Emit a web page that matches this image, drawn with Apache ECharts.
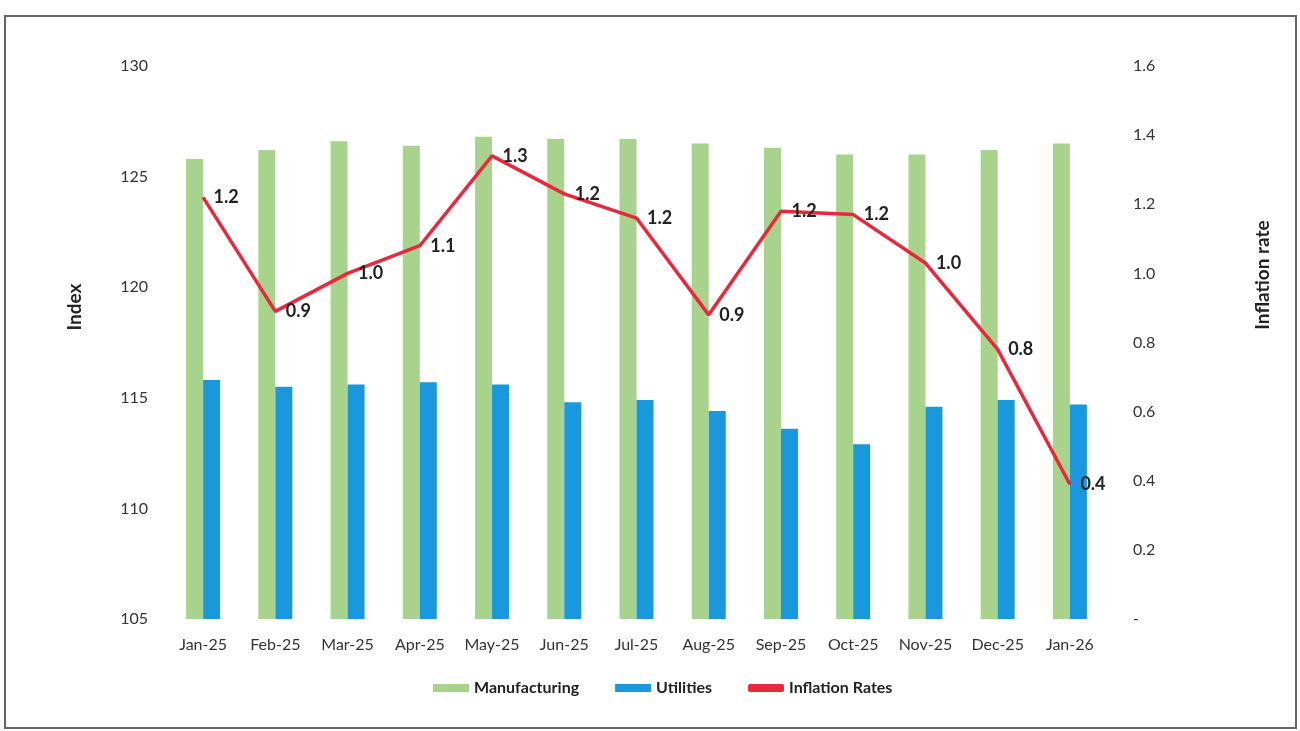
<!DOCTYPE html>
<html>
<head>
<meta charset="utf-8">
<script src="https://cdn.jsdelivr.net/npm/echarts@6/dist/echarts.min.js"></script>
<style>
  html, body { margin: 0; padding: 0; background: #fff; }
  #chart { width: 1300px; height: 731px; }
</style>
</head>
<body>
<div id="chart"></div>
<script>
  const months = ['Jan-25', 'Feb-25', 'Mar-25', 'Apr-25', 'May-25', 'Jun-25', 'Jul-25',
    'Aug-25', 'Sep-25', 'Oct-25', 'Nov-25', 'Dec-25', 'Jan-26']
  const manufacturing = [125.8, 126.2, 126.6, 126.4, 126.8, 126.7, 126.7, 126.5, 126.3, 126.0, 126.0, 126.2, 126.5]
  const utilities = [115.8, 115.5, 115.6, 115.7, 115.6, 114.8, 114.9, 114.4, 113.6, 112.9, 114.6, 114.9, 114.7]
  const inflation = [1.22, 0.89, 1.0, 1.08, 1.34, 1.23, 1.16, 0.88, 1.18, 1.17, 1.03, 0.78, 0.39]

  const font = 'Lato, "Open Sans", sans-serif'
  const chart = echarts.init(document.getElementById('chart'))

  chart.setOption({
    animation: false,
    textStyle: { fontFamily: font },
    grid: { left: 167, right: 194, top: 66, bottom: 112 },
    legend: {
      bottom: 30,
      left: 428,
      itemWidth: 36,
      itemHeight: 8,
      itemGap: 36,
      textStyle: { fontSize: 16, fontWeight: 'bold', color: '#222', fontFamily: font },
      data: [
        { name: 'Manufacturing', icon: 'rect' },
        { name: 'Utilities', icon: 'rect' },
        { name: 'Inflation Rates', icon: 'roundRect' }
      ]
    },
    xAxis: [{
      type: 'category',
      data: months,
      axisLine: { show: false },
      axisTick: { show: false },
      axisLabel: { color: '#333', fontSize: 16, margin: 18 }
    }],
    yAxis: [{
      type: 'value',
      min: 105,
      max: 130,
      interval: 5,
      splitLine: { show: false },
      axisLine: { show: false },
      axisTick: { show: false },
      axisLabel: { color: '#333', fontSize: 16, margin: 19 }
    }, {
      type: 'value',
      min: 0,
      max: 1.6,
      interval: 0.2,
      position: 'right',
      splitLine: { show: false },
      axisLine: { show: false },
      axisTick: { show: false },
      axisLabel: {
        color: '#333',
        fontSize: 16,
        margin: 27,
        formatter: function (v) { return v === 0 ? '-' : v.toFixed(1) }
      }
    }],
    graphic: [{
      type: 'rect',
      shape: { x: 5, y: 16, width: 1291, height: 712 },
      style: { fill: 'none', stroke: '#666', lineWidth: 2 }
    }, {
      type: 'text',
      x: 75,
      y: 307,
      rotation: Math.PI / 2,
      style: {
        text: 'Index', fontSize: 19, fontWeight: 'bold', fill: '#222', fontFamily: font,
        align: 'center', verticalAlign: 'middle'
      }
    }, {
      type: 'text',
      x: 1263,
      y: 275,
      rotation: Math.PI / 2,
      style: {
        text: 'Inflation rate', fontSize: 19, fontWeight: 'bold', fill: '#222', fontFamily: font,
        align: 'center', verticalAlign: 'middle'
      }
    }],
    series: [{
      name: 'Manufacturing',
      type: 'bar',
      barWidth: 17,
      barGap: '0%',
      itemStyle: { color: '#a8d38c' },
      data: manufacturing
    }, {
      name: 'Utilities',
      type: 'bar',
      barWidth: 17,
      itemStyle: { color: '#1a98de' },
      data: utilities
    }, {
      name: 'Inflation Rates',
      type: 'line',
      yAxisIndex: 1,
      symbol: 'circle',
      symbolSize: 1,
      itemStyle: { color: '#e8283c' },
      lineStyle: { color: '#e8283c', width: 3.5 },
      label: {
        show: true,
        position: 'right',
        distance: 10,
        fontSize: 18,
        fontWeight: 'bold',
        color: '#222',
        formatter: function (p) { return p.value.toFixed(1) }
      },
      data: inflation
    }]
  })
</script>
</body>
</html>
